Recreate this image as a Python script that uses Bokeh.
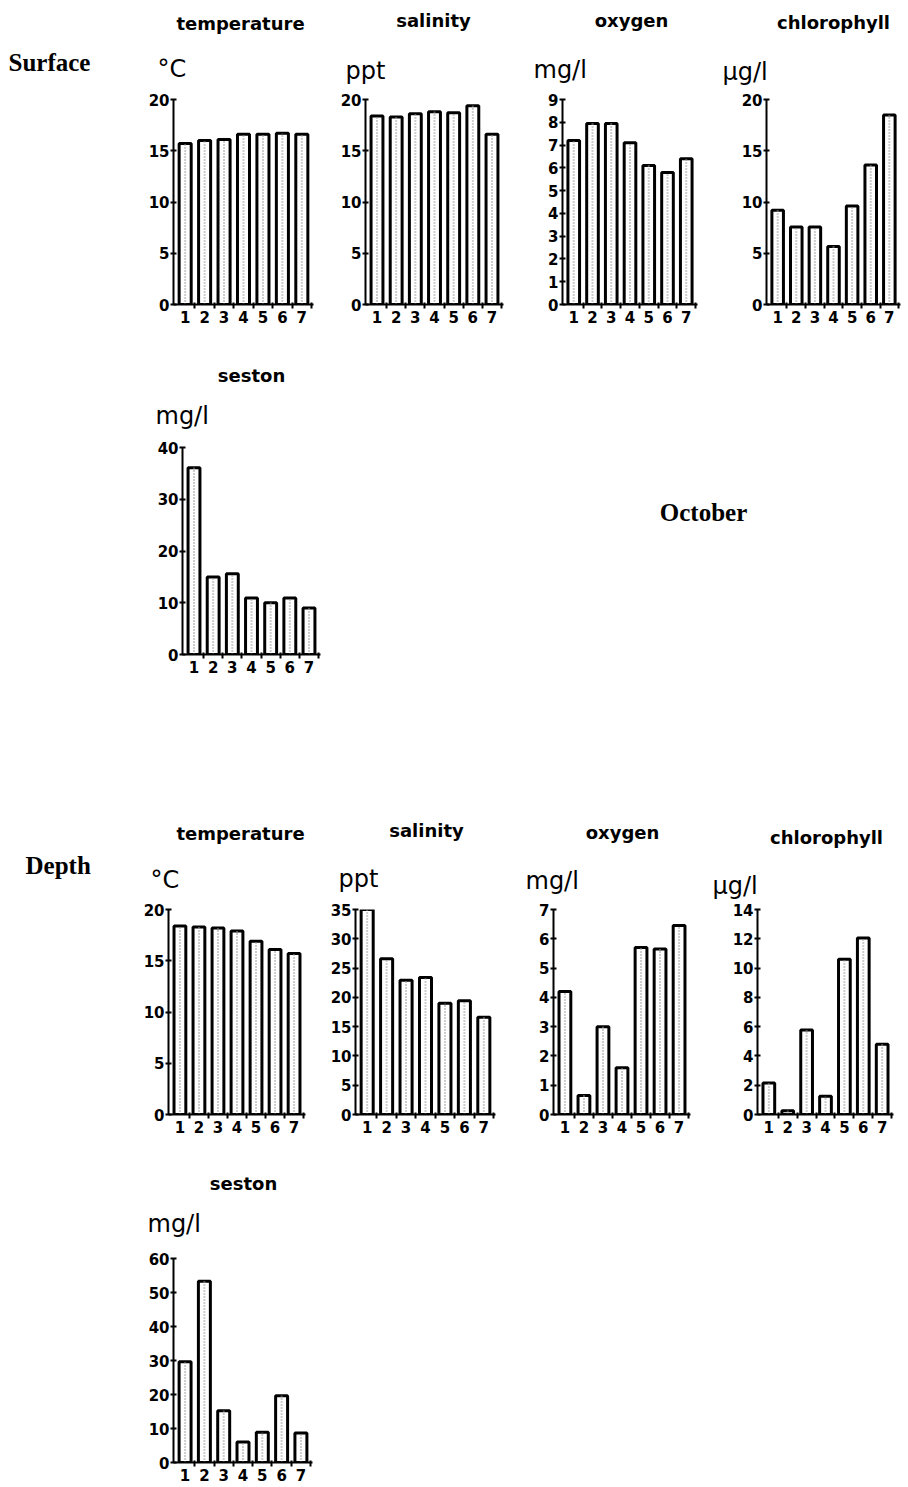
from bokeh.plotting import figure
from bokeh.models import FixedTicker, Label, Range1d
from bokeh.layouts import column, row
from bokeh.embed import file_html
from bokeh.resources import INLINE

# ---------------- data ----------------
stations = [1, 2, 3, 4, 5, 6, 7]

surface_temperature = [15.7, 16.0, 16.1, 16.6, 16.6, 16.7, 16.6]
surface_salinity = [18.4, 18.3, 18.6, 18.8, 18.7, 19.4, 16.6]
surface_oxygen = [7.2, 7.95, 7.95, 7.1, 6.1, 5.8, 6.4]
surface_chlorophyll = [9.2, 7.55, 7.55, 5.65, 9.6, 13.6, 18.5]
surface_seston = [36.1, 15.0, 15.6, 10.9, 10.0, 10.9, 9.0]

depth_temperature = [18.4, 18.3, 18.2, 17.9, 16.9, 16.1, 15.7]
depth_salinity = [35.0, 26.6, 22.9, 23.4, 19.0, 19.4, 16.6]
depth_oxygen = [4.2, 0.65, 3.0, 1.6, 5.7, 5.65, 6.45]
depth_chlorophyll = [2.15, 0.25, 5.77, 1.24, 10.6, 12.05, 4.8]
depth_seston = [29.6, 53.3, 15.2, 6.0, 8.9, 19.6, 8.7]

ticks_temperature = [0, 5, 10, 15, 20]
ticks_salinity_surface = [0, 5, 10, 15, 20]
ticks_oxygen_surface = [0, 1, 2, 3, 4, 5, 6, 7, 8, 9]
ticks_chlorophyll_surface = [0, 5, 10, 15, 20]
ticks_seston_surface = [0, 10, 20, 30, 40]
ticks_salinity_depth = [0, 5, 10, 15, 20, 25, 30, 35]
ticks_oxygen_depth = [0, 1, 2, 3, 4, 5, 6, 7]
ticks_chlorophyll_depth = [0, 2, 4, 6, 8, 10, 12, 14]
ticks_seston_depth = [0, 10, 20, 30, 40, 50, 60]

SANS = "DejaVu Sans"
SERIF = "Liberation Serif"

TITLE = dict(font=SANS, size=18, style="bold", align="center")
UNIT = dict(font=SANS, size=24, style="normal", align="left")
SIDE = dict(font=SERIF, size=25, style="bold", align="left")
SIDE_C = dict(font=SERIF, size=25, style="bold", align="center")


def strip(x0, x1, y0, y1, items, borders=(0, 0, 0, 0)):
    """A plain text area; positions are page pixels (frame spans x0..x1, y0..y1)."""
    bl, br, bt, bb = borders
    p = figure(frame_width=x1 - x0, frame_height=y1 - y0,
               min_border_left=bl, min_border_right=br, min_border_top=bt, min_border_bottom=bb,
               x_range=Range1d(x0, x1), y_range=Range1d(y1, y0),
               x_axis_type=None, y_axis_type=None,
               output_backend="svg", toolbar_location=None, tools="")
    p.xgrid.visible = False
    p.ygrid.visible = False
    p.outline_line_color = None
    for (X, Y, text, st) in items:
        size = st["size"]
        p.add_layout(Label(x=X, y=Y - round(0.3 * size), text=text, text_font=st["font"],
                           text_font_size=f"{size}px", text_font_style=st["style"],
                           text_align=st["align"], text_baseline="alphabetic",
                           text_color="black"))
    return p


def panel(values, yticks, box):
    fx0, fx1, fy0, fy1, fl, fr, ft, fb = box
    p = figure(frame_width=fr - fl, frame_height=fb - ft,
               min_border_left=fl - fx0, min_border_right=fx1 - fr,
               min_border_top=ft - fy0, min_border_bottom=fy1 - fb,
               x_range=Range1d(0.4, 7.6), y_range=Range1d(0, yticks[-1]),
               output_backend="svg", toolbar_location=None, tools="")
    p.xgrid.visible = False
    p.ygrid.visible = False
    p.outline_line_color = None

    p.vbar(x=stations, top=values, bottom=0, width=0.62, fill_color="white",
           line_color="black", line_width=3)
    p.segment(x0=stations, y0=0, x1=stations, y1=values, line_color="#9a9a9a",
              line_width=2, line_dash="1 2")

    p.xaxis.ticker = FixedTicker(ticks=stations, minor_ticks=[s + 0.5 for s in stations])
    p.yaxis.ticker = FixedTicker(ticks=yticks, minor_ticks=[])
    for ax in (p.xaxis[0], p.yaxis[0]):
        ax.axis_line_width = 2
        ax.axis_line_color = "black"
        ax.major_label_text_font = SANS
        ax.major_label_text_font_style = "bold"
        ax.major_label_text_font_size = "15px"
        ax.major_label_text_color = "black"
    p.xaxis.major_tick_line_color = None
    p.xaxis.major_tick_out = 0
    p.xaxis.major_tick_in = 0
    p.xaxis.minor_tick_line_color = "black"
    p.xaxis.minor_tick_line_width = 2
    p.xaxis.minor_tick_in = 2
    p.xaxis.minor_tick_out = 4
    p.xaxis.major_label_standoff = 2
    p.yaxis.major_tick_line_width = 2
    p.yaxis.major_tick_line_color = "black"
    p.yaxis.major_tick_in = 3
    p.yaxis.major_tick_out = 3
    p.yaxis.minor_tick_line_color = None
    p.yaxis.major_label_standoff = 1
    return p


# Band 1: surface titles
s1 = strip(0, 908, 0, 90, [
    (8, 70, "Surface", SIDE),
    (240, 28, "temperature", TITLE), (157, 75, "°C", UNIT),
    (433, 25, "salinity", TITLE), (345, 77, "ppt", UNIT),
    (631, 25, "oxygen", TITLE), (533, 76, "mg/l", UNIT),
    (833, 27, "chlorophyll", TITLE), (722, 78, "µg/l", UNIT),
])
# Row 1: surface charts
pA = panel(surface_temperature, ticks_temperature, (0, 325, 90, 340, 173, 313, 99, 304))
pB = panel(surface_salinity, ticks_salinity_surface, (325, 515, 90, 340, 365, 503, 99, 304))
pC = panel(surface_oxygen, ticks_oxygen_surface, (515, 707, 90, 340, 562, 697, 99, 304))
pD = panel(surface_chlorophyll, ticks_chlorophyll_surface, (707, 908, 90, 340, 766, 900, 99, 304))

# Band 2: surface seston titles
s2 = strip(0, 908, 340, 436, [
    (251, 380, "seston", TITLE), (155, 422, "mg/l", UNIT),
])
pE = panel(surface_seston, ticks_seston_surface, (0, 340, 436, 700, 182, 320, 447, 654))
# text area beside the seston chart, with the same top/bottom borders as that chart
oct_area = strip(340, 908, 447, 654, [(703, 520, "October", SIDE_C)], borders=(0, 0, 11, 46))

# Band 3: depth titles
s3 = strip(0, 908, 700, 900, [
    (25, 873, "Depth", SIDE),
    (240, 838, "temperature", TITLE), (150, 886, "°C", UNIT),
    (426, 835, "salinity", TITLE), (338, 885, "ppt", UNIT),
    (622, 837, "oxygen", TITLE), (525, 887, "mg/l", UNIT),
    (826, 842, "chlorophyll", TITLE), (712, 892, "µg/l", UNIT),
])
pF = panel(depth_temperature, ticks_temperature, (0, 315, 900, 1150, 168, 305, 909, 1114))
pG = panel(depth_salinity, ticks_salinity_depth, (315, 505, 900, 1150, 355, 495, 909, 1114))
pH = panel(depth_oxygen, ticks_oxygen_depth, (505, 700, 900, 1150, 553, 690, 909, 1114))
pI = panel(depth_chlorophyll, ticks_chlorophyll_depth, (700, 908, 900, 1150, 757, 893, 909, 1114))

# Band 4: depth seston titles
s4 = strip(0, 908, 1150, 1244, [
    (243, 1188, "seston", TITLE), (147, 1230, "mg/l", UNIT),
])
pJ = panel(depth_seston, ticks_seston_depth, (0, 332, 1244, 1487, 173, 312, 1258, 1462))

layout = column(
    row(s1, spacing=0),
    row(pA, pB, pC, pD, spacing=0),
    row(s2, spacing=0),
    row(pE, oct_area, spacing=0),
    row(s3, spacing=0),
    row(pF, pG, pH, pI, spacing=0),
    row(s4, spacing=0),
    row(pJ, spacing=0),
    spacing=0,
)

open("out.html", "w").write(file_html(layout, INLINE))
